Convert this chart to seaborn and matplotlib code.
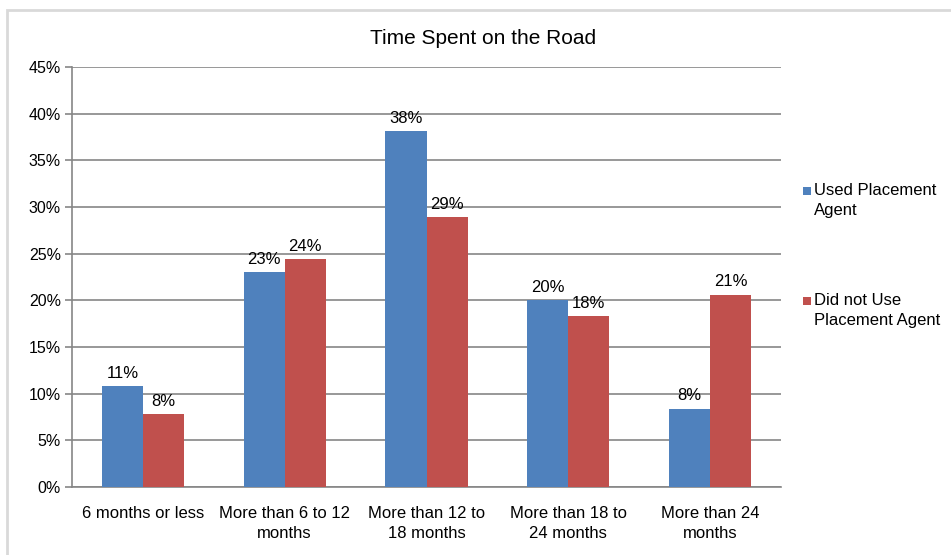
import matplotlib
matplotlib.use("Agg")
import matplotlib.pyplot as plt
import seaborn as sns
import pandas as pd
from matplotlib.patches import Rectangle
from matplotlib.ticker import FuncFormatter, MultipleLocator

categories = [
    "6 months or less",
    "More than 6 to 12\nmonths",
    "More than 12 to\n18 months",
    "More than 18 to\n24 months",
    "More than 24\nmonths",
]
used_agent = [10.8, 23.0, 38.1, 20.0, 8.4]
no_agent = [7.8, 24.4, 28.9, 18.3, 20.6]
series_names = ["Used Placement\nAgent", "Did not Use\nPlacement Agent"]
colors = ["#4F81BD", "#C0504D"]

df = pd.DataFrame({
    "category": categories * 2,
    "series": [series_names[0]] * len(categories) + [series_names[1]] * len(categories),
    "value": used_agent + no_agent,
})

sns.set_theme(style="white")
plt.rcParams["font.family"] = ["Liberation Sans", "DejaVu Sans"]

fig = plt.figure(figsize=(9.51, 5.55), dpi=100)
W, H = 951, 555
ax = fig.add_axes([72 / W, (H - 487) / H, (781 - 72) / W, (487 - 67) / H])

sns.barplot(data=df, x="category", y="value", hue="series", order=categories,
            hue_order=series_names, palette=colors, width=0.58, saturation=1,
            edgecolor="none", linewidth=0, ax=ax, zorder=3, legend=False)

ax.set_ylim(0, 45)
ax.yaxis.set_major_locator(MultipleLocator(5))
ax.yaxis.set_major_formatter(FuncFormatter(lambda v, p: f"{v:.0f}%"))
ax.grid(axis="y", color="#868686", linewidth=1.2, zorder=0)
ax.set_axisbelow(True)
ax.set_xlabel("")
ax.set_ylabel("")

for side in ["top", "right"]:
    ax.spines[side].set_visible(False)
for side in ["left", "bottom"]:
    ax.spines[side].set_color("#868686")
    ax.spines[side].set_linewidth(1.2)

ax.tick_params(axis="y", which="major", left=True, length=5, width=1.2,
               color="#868686", labelsize=11.5, labelcolor="black", pad=3)
ax.tick_params(axis="x", bottom=False, labelsize=12, labelcolor="black", pad=8)
for lbl in ax.get_xticklabels():
    lbl.set_linespacing(1.4)

for cont in ax.containers:
    ax.bar_label(cont, labels=[f"{v:.0f}%" for v in cont.datavalues],
                 padding=4, fontsize=12, color="black")

fig.text(483 / W, 1 - 38 / H, "Time Spent on the Road", fontsize=15,
         color="black", ha="center", va="center")

# legend: square swatch beside the first line of each two-line label
legend_rows = [(series_names[0], colors[0], 191), (series_names[1], colors[1], 301)]
for name, col, ypix in legend_rows:
    fig.patches.append(Rectangle((803 / W, 1 - (ypix + 4) / H), 8 / W, 8 / H,
                                 transform=fig.transFigure, facecolor=col,
                                 edgecolor="none"))
    fig.text(814 / W, 1 - (ypix - 8) / H, name, fontsize=12, color="black",
             ha="left", va="top", linespacing=1.45)

fig.patches.append(Rectangle((7 / W, -0.05), 1.1, (H - 10) / H + 0.05,
                             transform=fig.transFigure, fill=False,
                             edgecolor="#D9D9D9", linewidth=2, zorder=0))

fig.savefig("out.png", dpi=100)
